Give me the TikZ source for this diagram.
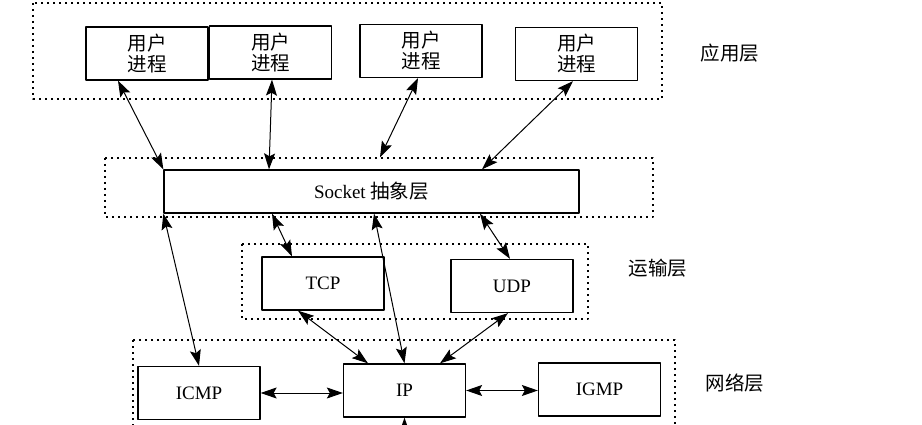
\documentclass[tikz,border=0pt]{standalone}
\usepackage{fontspec}
\setmainfont{Liberation Serif}
\newfontfamily\cjk{Noto Sans CJK SC}
\usetikzlibrary{arrows.meta,calc}

\tikzset{
  procbox/.style={draw,line width=1.3pt,minimum width=122pt,minimum height=53pt,inner sep=0pt,
    align=center,font=\cjk\fontsize{19.5}{21}\selectfont},
  protobox/.style={draw,line width=1.3pt,minimum width=122pt,minimum height=53pt,inner sep=0pt,
    font=\fontsize{19}{22}\selectfont},
  layerbox/.style={draw,line width=1.3pt,dash pattern=on 2pt off 4pt},
  layername/.style={font=\cjk\fontsize{19.5}{21}\selectfont},
  tip/.tip={Stealth[length=16pt,width=11pt,inset=3pt]},
  link/.style={tip-tip,line width=1pt},
}

\begin{document}
\begin{tikzpicture}[x=1pt,y=-1pt,line join=round]
	\clip (0,0) rectangle (922,425);
	% layers
	\draw[layerbox] (33,3) rectangle (662,99);
	\draw[layerbox] (105,158) rectangle (653,217);
	\draw[layerbox] (242,244) rectangle (588,319);
	\draw[layerbox] (133,340) rectangle (675,450);
	\node[layername] (app) at (730,53) {应用层};
	\node[layername] (trans) at (658,268) {运输层};
	\node[layername] (net) at (735,383) {网络层};
	% user processes
	\node[procbox] (p1) at (147,53.5) {用户\\进程};
	\node[procbox] (p2) at (270.5,52.5) {用户\\进程};
	\node[procbox] (p3) at (421,51) {用户\\进程};
	\node[procbox] (p4) at (576.5,54) {用户\\进程};
	% socket
	\node[protobox,minimum width=415pt,minimum height=43pt] (sock) at (371.5,191.5)
		{Socket {\cjk\fontsize{19.5}{21}\selectfont 抽象层}};
	% protocols
	\node[protobox] (tcp) at (323,283.5) {TCP};
	\node[protobox] (udp) at (512,286) {UDP};
	\node[protobox] (icmp) at (199,393) {ICMP};
	\node[protobox] (ip) at (404.5,390.5) {IP};
	\node[protobox] (igmp) at (599.5,389.5) {IGMP};
	\coordinate (down) at (404.5,450);
	% connections
	\draw[link] ([xshift=-29pt]p1.south) -- (sock.north west);
	\draw[link] ([xshift=1.5pt]p2.south) -- ([xshift=-102.5pt]sock.north);
	\draw[link] ([xshift=-3pt]p3.south) -- ([xshift=8.5pt,yshift=12pt]sock.north);
	\draw[link] ([xshift=-3.5pt]p4.south) -- ([xshift=110.5pt]sock.north);
	\draw[link] (sock.south west) -- (icmp.north);
	\draw[link] ([xshift=-99.5pt]sock.south) -- ([xshift=-31pt]tcp.north);
	\draw[link] ([xshift=2.5pt]sock.south) -- (ip.north);
	\draw[link] ([xshift=108.5pt]sock.south) -- ([xshift=-2pt]udp.north);
	\draw[link] ([xshift=-25pt]tcp.south) -- ([xshift=-36.5pt]ip.north);
	\draw[link] ([xshift=-4pt]udp.south) -- ([xshift=35.5pt]ip.north);
	\draw[link] (icmp.east) -- (icmp.east -| ip.west);
	\draw[link] (ip.east) -- (ip.east -| igmp.west);
	\draw[-tip,line width=1pt] (down) -- (ip.south);
\end{tikzpicture}
\end{document}
